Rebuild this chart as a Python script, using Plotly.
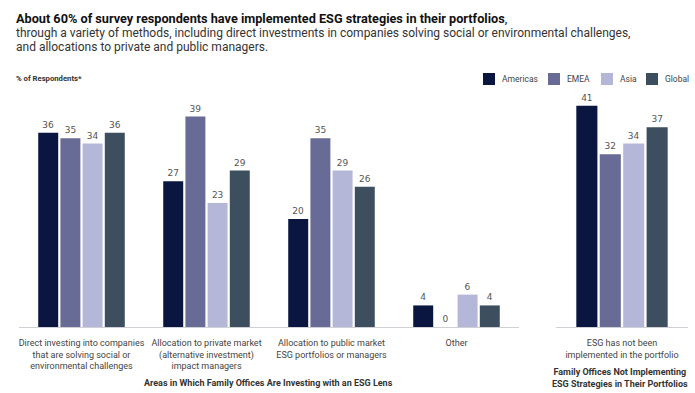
import plotly.graph_objects as go

categories = [
    "Direct investing into companies<br>that are solving social or<br>environmental challenges",
    "Allocation to private market<br>(alternative investment)<br>impact managers",
    "Allocation to public market<br>ESG portfolios or managers",
    "Other",
]
categories_right = ["ESG has not been<br>implemented in the portfolio"]

series = ["Americas", "EMEA", "Asia", "Global"]
americas = [36, 27, 20, 4]
emea = [35, 39, 35, 0]
asia = [34, 23, 29, 6]
global_ = [36, 29, 26, 4]

americas_r = [41]
emea_r = [32]
asia_r = [34]
global_r = [37]

colors = ["#0b1640", "#686b96", "#b5b7d9", "#3d4e5e"]

left_vals = [americas, emea, asia, global_]
right_vals = [americas_r, emea_r, asia_r, global_r]

fig = go.Figure()
valfont = dict(family="DejaVu Sans", size=9, color="#555555")
for name, vals, col in zip(series, left_vals, colors):
    fig.add_trace(go.Bar(
        x=categories, y=vals, name=name, marker=dict(color=col, line=dict(width=0)),
        text=[str(v) for v in vals], textposition="outside", textfont=valfont,
        cliponaxis=False, xaxis="x", yaxis="y", showlegend=False,
    ))
for name, vals, col in zip(series, right_vals, colors):
    fig.add_trace(go.Bar(
        x=categories_right, y=vals, name=name, marker=dict(color=col, line=dict(width=0)),
        text=[str(v) for v in vals], textposition="outside", textfont=valfont,
        cliponaxis=False, xaxis="x2", yaxis="y2", showlegend=False,
    ))

W, H = 695, 393
TOP, BASE = 95, 327
def px(x):
    return x / W
def py(y):
    return (BASE - y) / (BASE - TOP)

axis_common = dict(
    showgrid=False, zeroline=False, showline=True, linecolor="#cfcfd6", linewidth=1,
    ticks="", tickangle=0, automargin=False, ticklabelstandoff=7,
    tickfont=dict(family="Roboto", size=9, color="#444444"),
)
fig.update_layout(
    width=W, height=H,
    margin=dict(l=0, r=0, t=TOP, b=H - BASE, autoexpand=False),
    paper_bgcolor="white", plot_bgcolor="white",
    barmode="group", bargap=0.29, bargroupgap=0.1,
    font=dict(family="Roboto", color="#333333"),
    xaxis=dict(domain=[px(19), px(519)], **axis_common),
    xaxis2=dict(domain=[px(556), px(688)], anchor="y2", **axis_common),
    yaxis=dict(range=[0, 43], visible=False),
    yaxis2=dict(range=[0, 43], visible=False, anchor="x2", matches="y"),
    showlegend=False,
)

# custom legend (square + label), positioned like the reference
legend_sq_x = [483, 548, 601, 646]
for name, col, sx in zip(series, colors, legend_sq_x):
    fig.add_shape(type="rect", xref="paper", yref="paper",
                  x0=px(sx), x1=px(sx + 12), y0=py(85), y1=py(73),
                  fillcolor=col, line=dict(width=0))
    fig.add_annotation(xref="paper", yref="paper", xanchor="left", yanchor="middle",
                       showarrow=False, text=name, x=px(sx + 17), y=py(79),
                       font=dict(family="Roboto", size=8.5, color="#444444"))

anns = [
    dict(text="<b>About 60% of survey respondents have implemented ESG strategies in their portfolios</b>,",
         x=px(14), y=py(18), font=dict(size=12.7, color="#111111")),
    dict(text="through a variety of methods, including direct investments in companies solving social or environmental challenges,",
         x=px(14), y=py(33), font=dict(size=12, color="#333333")),
    dict(text="and allocations to private and public managers.",
         x=px(14), y=py(47), font=dict(size=12, color="#333333")),
    dict(text="<b>% of Respondents*</b>",
         x=px(14), y=py(78), font=dict(size=7.7, color="#333333")),
]
for a in anns:
    fig.add_annotation(xref="paper", yref="paper", xanchor="left", yanchor="middle",
                       showarrow=False, text=a["text"], x=a["x"], y=a["y"], font=dict(family="Roboto", **a["font"]))

fig.add_annotation(xref="paper", yref="paper", xanchor="center", yanchor="middle", showarrow=False,
                   x=px(268), y=py(383),
                   text="<b>Areas in Which Family Offices Are Investing with an ESG Lens</b>",
                   font=dict(family="Roboto", size=9, color="#333333"))
fig.add_annotation(xref="paper", yref="paper", xanchor="center", yanchor="middle", showarrow=False,
                   x=px(620), y=py(378),
                   text="<b>Family Offices Not Implementing<br>ESG Strategies in Their Portfolios</b>",
                   font=dict(family="Roboto", size=9, color="#333333"))

fig.write_html("out.html", config={"displayModeBar": False},
               post_script="document.body.style.margin='0';")
